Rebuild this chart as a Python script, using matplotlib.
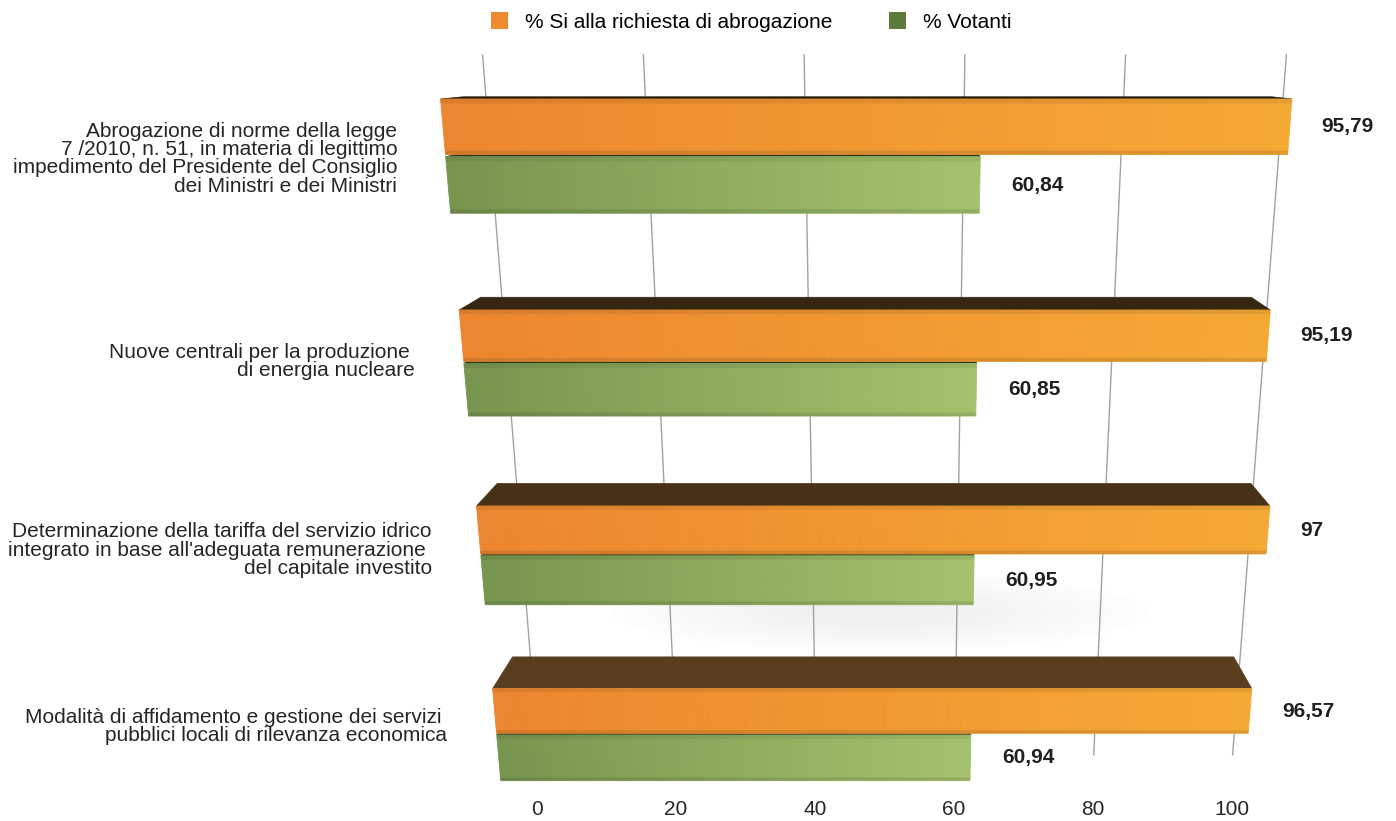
import numpy as np
import matplotlib
matplotlib.use("Agg")
import matplotlib.pyplot as plt
from matplotlib.transforms import Transform
from matplotlib.colors import to_rgb
from matplotlib.patches import Patch, Polygon, Ellipse

plt.rcParams['font.family'] = ['Liberation Sans', 'DejaVu Sans']

# Dati del referendum
categorie = [
    "Abrogazione di norme della legge\n7 /2010, n. 51, in materia di legittimo\n"
    "impedimento del Presidente del Consiglio\ndei Ministri e dei Ministri",
    "Nuove centrali per la produzione \ndi energia nucleare",
    "Determinazione della tariffa del servizio idrico\n"
    "integrato in base all'adeguata remunerazione \ndel capitale investito",
    "Modalità di affidamento e gestione dei servizi \n"
    "pubblici locali di rilevanza economica",
]
si_abrogazione = [95.79, 95.19, 97, 96.57]
votanti = [60.84, 60.85, 60.95, 60.94]
tick_valori = [0, 20, 40, 60, 80, 100]
serie = ["% Si alla richiesta di abrogazione", "% Votanti"]

W, H = 1396, 821
FS = 15

# prospettiva: le verticali convergono in un punto molto in basso
VPX, VPY = 891.0, 5200.0
A, B, C = 222.9, 99.0, 0.0383          # riga r -> y (pixel)
VP_PROF = np.array([891.0, 55.0])      # punto di fuga della profondita'
K_PROF = 0.05


class Prospettiva(Transform):
    input_dims = 2
    output_dims = 2
    is_separable = False
    has_inverse = False

    def __init__(self, x0, s, yref):
        super().__init__()
        self.x0 = x0
        self.s = s
        self.yref = yref

    def transform_non_affine(self, values):
        values = np.asarray(values, dtype=float)
        v = values[:, 0]
        r = values[:, 1]
        y = (A * r + B) / (C * r + 1)
        x = VPX + (self.x0 + self.s * v - VPX) * (VPY - y) / (VPY - self.yref)
        return np.column_stack([x, y])


def virgola(v):
    return f"{v:g}".replace(".", ",")


fig = plt.figure(figsize=(W / 100, H / 100), dpi=100)
ax = fig.add_axes([0, 0, 1, 1])
ax.set_autoscale_on(False)
ax.set_xlim(0, W)
ax.set_ylim(H, 0)
ax.axis("off")

fronte = Prospettiva(443, 8.84, 127)
fondo = Prospettiva(483, 8.03, 60)
pavimento = Prospettiva(537, 6.95, 810)
t_fronte = fronte + ax.transData

# griglia sul fondo
for t in tick_valori:
    ax.plot([t, t], [-0.2, 3.38], transform=fondo + ax.transData,
            color="#9CA2AD", lw=1.0, zorder=1)
    ax.text(t, 3.705, str(t), transform=pavimento + ax.transData,
            ha="center", va="center", fontsize=FS, color="#262626")

# ombra morbida sotto il terzo gruppo
for i in range(14):
    ax.add_patch(Ellipse((880, 612), 540 - 30 * i, 76 - 4 * i,
                         color="#7f7f7f", alpha=0.009, lw=0, zorder=0))


def barra(v, r0, r1, c_sx, c_dx, c_top, n=60):
    # faccia superiore
    pts = fronte.transform(np.array([[0, r0], [v, r0]]))
    retro = pts + K_PROF * (VP_PROF - pts)
    if c_top is None:
        f = np.clip((pts[0, 1] - retro[0, 1]) / 33.0, 0, 1)
        c_top = (1 - f) * np.array(to_rgb("#1E160A")) + f * np.array(to_rgb("#5A3F1F"))
    ax.add_patch(Polygon([pts[0], pts[1], retro[1], retro[0]], closed=True,
                         fc=c_top, ec=c_top, lw=0.5, zorder=3))
    # faccia frontale con sfumatura
    t = np.linspace(0, 1, n)[:, None]
    col = (1 - t) * np.array(to_rgb(c_sx)) + t * np.array(to_rgb(c_dx))
    sinistre = np.linspace(0, v, n + 1)[:-1]
    ax.barh([r0] * n, v / n, height=r1 - r0, left=sinistre, align="edge",
            color=col, edgecolor=col, lw=0.6, transform=t_fronte, zorder=4)
    h = r1 - r0
    ax.barh(r0, v, height=h * 0.08, left=0, align="edge", color="black",
            alpha=0.07, lw=0, transform=t_fronte, zorder=5)
    ax.barh(r1 - h * 0.07, v, height=h * 0.07, left=0, align="edge",
            color="black", alpha=0.10, lw=0, transform=t_fronte, zorder=5)


for i in range(len(categorie)):
    # votanti (sotto)
    g0, g1 = i + 0.266, i + 0.532
    barra(votanti[i], g0, g1, "#78954F", "#A4C26D", "#22361A")
    ax.annotate(virgola(votanti[i]), xy=(votanti[i], (g0 + g1) / 2),
                xycoords=t_fronte, xytext=(23, 0), textcoords="offset points",
                ha="left", va="center", fontsize=FS, fontweight="bold",
                color="#231F20")
    # si alla richiesta (sopra)
    o0, o1 = i, i + 0.256
    barra(si_abrogazione[i], o0, o1, "#EC8630", "#F5A935", None)
    ax.annotate(virgola(si_abrogazione[i]), xy=(si_abrogazione[i], (o0 + o1) / 2),
                xycoords=t_fronte, xytext=(23, 0), textcoords="offset points",
                ha="left", va="center", fontsize=FS, fontweight="bold",
                color="#231F20")
    # etichetta della categoria
    ax.annotate(categorie[i], xy=(0, i + 0.275 - 0.02 * i), xycoords=t_fronte,
                xytext=(-35, 0), textcoords="offset points", ha="right",
                va="center", multialignment="right", linespacing=0.95,
                fontsize=FS, color="#262626")

fig.legend(handles=[Patch(fc="#F08A2E"), Patch(fc="#5D7A3A")], labels=serie,
           loc="center", bbox_to_anchor=(751 / W, 1 - 22 / H), ncol=2,
           frameon=False, fontsize=FS, handlelength=0.85, handleheight=0.85,
           handletextpad=0.8, columnspacing=2.7)

fig.savefig("out.png", dpi=100)
